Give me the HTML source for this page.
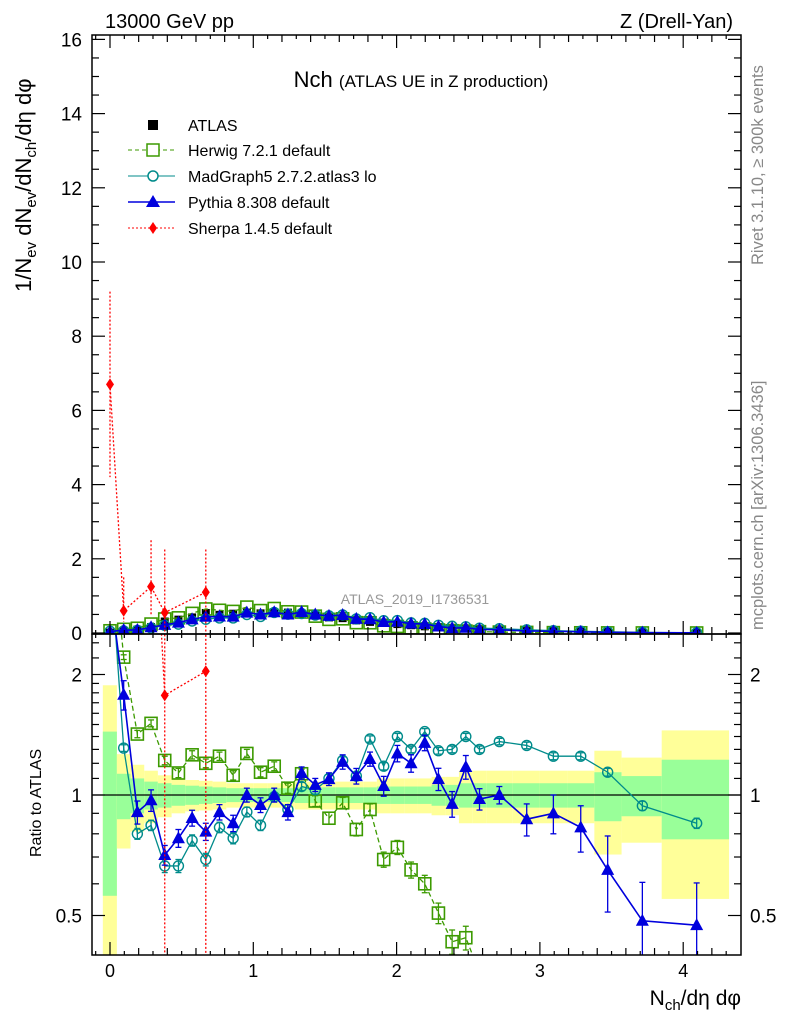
<!DOCTYPE html>
<html><head><meta charset="utf-8"><style>
html,body{margin:0;padding:0;background:#fff;overflow:hidden;width:786px;height:1024px;}
svg{display:block;font-family:"Liberation Sans",sans-serif;}
</style></head><body>
<svg id="chart" width="786" height="1024" viewBox="0 0 786 1024" xmlns="http://www.w3.org/2000/svg">
<defs>
<clipPath id="clipMain"><rect x="92" y="35" width="649" height="599"/></clipPath>
<clipPath id="clipRatio"><rect x="92" y="634" width="649" height="321"/></clipPath>
</defs>
<g id="bands" clip-path="url(#clipRatio)"></g>
<g id="ratioMarks" clip-path="url(#clipRatio)"></g>
<g id="mainMarks" clip-path="url(#clipMain)"></g>
<g id="axes"></g>
<text x="105" y="28" font-size="20">13000 GeV pp</text>
<text x="733" y="28" font-size="20" text-anchor="end">Z (Drell-Yan)</text>
<text x="421" y="87" font-size="22" text-anchor="middle">Nch <tspan font-size="17">(ATLAS UE in Z production)</tspan></text>
<text x="415" y="604" font-size="14" fill="#999" text-anchor="middle">ATLAS_2019_I1736531</text>
<text transform="translate(763,265) rotate(-90)" font-size="16.5" fill="#888">Rivet 3.1.10, ≥ 300k events</text>
<text transform="translate(763,630) rotate(-90)" font-size="16.5" fill="#888">mcplots.cern.ch [arXiv:1306.3436]</text>
<text transform="translate(31,292) rotate(-90)" font-size="22">1/N<tspan font-size="15" dy="5">ev</tspan><tspan dy="-5"> dN</tspan><tspan font-size="15" dy="5">ev</tspan><tspan dy="-5">/dN</tspan><tspan font-size="15" dy="5">ch</tspan><tspan dy="-5">/dη dφ</tspan></text>
<text transform="translate(41,857) rotate(-90)" font-size="16">Ratio to ATLAS</text>
<text x="741" y="1005" font-size="21" text-anchor="end">N<tspan font-size="15" dy="5">ch</tspan><tspan dy="-5">/dη dφ</tspan></text>
<g id="legend">
<g><rect x="148" y="120" width="10" height="10" fill="#000"/><text x="188" y="131" font-size="16">ATLAS</text></g>
<g><line x1="128" y1="150" x2="175" y2="150" stroke="#3c9a00" stroke-dasharray="4,3"/><rect x="147" y="144" width="12" height="12" fill="#fff" stroke="#3c9a00" stroke-width="1.5"/><text x="188" y="156" font-size="16">Herwig 7.2.1 default</text></g>
<g><line x1="128" y1="176" x2="175" y2="176" stroke="#008b8b"/><circle cx="153" cy="176" r="5" fill="#fff" stroke="#008b8b" stroke-width="1.5"/><text x="188" y="182" font-size="16">MadGraph5 2.7.2.atlas3 lo</text></g>
<g><line x1="128" y1="202" x2="175" y2="202" stroke="#0000dd" stroke-width="1.5"/><polygon points="153,195 160,207 146,207" fill="#0000dd"/><text x="188" y="208" font-size="16">Pythia 8.308 default</text></g>
<g><line x1="128" y1="228" x2="175" y2="228" stroke="#f00" stroke-dasharray="2,2"/><polygon points="153,222 157,228 153,234 149,228" fill="#f00"/><text x="188" y="234" font-size="16">Sherpa 1.4.5 default</text></g>
</g>
</svg>
<script>
// ---- data ----
const xCenters = [0,0.0955,0.191,0.2865,0.382,0.4775,0.573,0.6685,0.764,0.8595,0.955,1.0505,1.146,1.2415,1.337,1.4325,1.528,1.6235,1.719,1.8145,1.91,2.0055,2.101,2.1965,2.292,2.3875,2.483,2.5785,2.717,2.908,3.094,3.285,3.473,3.715,4.094];
const binLo = [-0.05,0.048,0.143,0.239,0.334,0.43,0.525,0.621,0.716,0.812,0.907,1.003,1.098,1.194,1.289,1.385,1.48,1.576,1.671,1.767,1.862,1.958,2.053,2.149,2.244,2.34,2.435,2.531,2.626,2.81,3.0,3.19,3.38,3.57,3.85];
const binHi = [0.048,0.143,0.239,0.334,0.43,0.525,0.621,0.716,0.812,0.907,1.003,1.098,1.194,1.289,1.385,1.48,1.576,1.671,1.767,1.862,1.958,2.053,2.149,2.244,2.34,2.435,2.531,2.626,2.81,3.0,3.19,3.38,3.57,3.85,4.32];
const atlasVals = [0.012,0.045,0.09,0.16,0.31,0.36,0.42,0.54,0.49,0.52,0.55,0.53,0.56,0.55,0.50,0.47,0.42,0.40,0.34,0.30,0.28,0.24,0.21,0.18,0.16,0.14,0.12,0.10,0.085,0.065,0.05,0.038,0.028,0.018,0.009];
const totErr = [0.88,0.265,0.19,0.15,0.12,0.10,0.09,0.085,0.08,0.07,0.07,0.07,0.07,0.07,0.08,0.08,0.08,0.08,0.08,0.08,0.10,0.10,0.10,0.10,0.11,0.11,0.15,0.15,0.15,0.15,0.15,0.15,0.29,0.24,0.45];
const statErr = [0.44,0.13,0.10,0.08,0.07,0.06,0.055,0.05,0.045,0.04,0.04,0.04,0.04,0.04,0.045,0.045,0.045,0.045,0.045,0.045,0.05,0.05,0.05,0.05,0.06,0.06,0.07,0.07,0.07,0.07,0.07,0.07,0.14,0.115,0.225];
const herwigRatio = [5.0,2.21,1.42,1.51,1.22,1.135,1.26,1.20,1.25,1.12,1.27,1.14,1.18,1.04,1.13,0.966,0.875,0.956,0.82,0.92,0.69,0.74,0.65,0.60,0.507,0.43,0.44,0.36,0.30,0.25,0.2,0.16,0.12,0.1,0.08];
const madgraphRatio = [4.0,1.31,0.80,0.84,0.665,0.665,0.77,0.69,0.83,0.78,0.907,0.84,0.99,0.92,1.05,1.03,1.10,1.22,1.115,1.38,1.18,1.40,1.30,1.44,1.29,1.30,1.40,1.30,1.36,1.33,1.25,1.25,1.14,0.94,0.85];
const pythiaRatio = [3.3,1.78,0.906,0.97,0.708,0.78,0.876,0.81,0.906,0.85,1.0,0.944,1.0,0.906,1.135,1.06,1.096,1.21,1.115,1.23,1.053,1.27,1.20,1.35,1.096,0.95,1.175,0.977,1.0,0.87,0.90,0.83,0.65,0.485,0.473];
const pythiaErr = [0.3,0.15,0.06,0.06,0.04,0.04,0.04,0.04,0.04,0.04,0.04,0.04,0.04,0.04,0.04,0.04,0.04,0.05,0.05,0.05,0.06,0.06,0.06,0.06,0.07,0.07,0.08,0.06,0.05,0.08,0.1,0.11,0.14,0.12,0.13];
const sherpaIdx = [0,1,3,4,7];
const sherpaVals = [6.7,0.6,1.25,0.55,1.1];
const sherpaErrHi = [2.5,0.9,1.25,1.7,1.15];
const sherpaErrLo = [2.5,0.3,0.8,0.55,1.1];
const mainYTicks = [0,2,4,6,8,10,12,14,16];
const xTicks = [0,1,2,3,4];
const ratioTicks = [0.5,1,2];

// ---- scales ----
const X = v => 110 + v*143.3;
const Y = v => 633 - 37.1*v;
const R = r => Math.min(1015, Math.max(300, 795 - 120.5*Math.log2(Math.max(r,0.01))));
const NS = "http://www.w3.org/2000/svg";
function mk(tag, parent, attrs){const e=document.createElementNS(NS,tag);for(const k in attrs)e.setAttribute(k,attrs[k]);parent.appendChild(e);return e;}
const bands=document.getElementById('bands'), rm=document.getElementById('ratioMarks'), mm=document.getElementById('mainMarks'), ax=document.getElementById('axes');

for(let i=0;i<binLo.length;i++){
  const y1=mk('rect',bands,{x:X(binLo[i]),y:R(1+totErr[i]),width:X(binHi[i])-X(binLo[i]),height:Math.min(R(Math.max(1-totErr[i],0.05)),960)-R(1+totErr[i]),fill:'#ffff99'});
  
  
  const g1=mk('rect',bands,{x:X(binLo[i]),y:R(1+statErr[i]),width:X(binHi[i])-X(binLo[i]),height:R(1-statErr[i])-R(1+statErr[i]),fill:'#99ff99'});
  
  
}
const one=mk('line',rm,{x1:92,x2:741,y1:R(1),y2:R(1),stroke:'#000','stroke-width':1.2});



function marker(parent,type,cx,cy,color){
  let e;
  if(type==='sq') e=mk('rect',parent,{x:cx-6,y:cy-6,width:12,height:12,fill:'none',stroke:color,'stroke-width':1.6});
  else if(type==='circ') e=mk('circle',parent,{cx:cx,cy:cy,r:5,fill:'none',stroke:color,'stroke-width':1.4});
  else if(type==='tri') e=mk('polygon',parent,{points:`${cx},${cy-7} ${cx+6.5},${cy+5} ${cx-6.5},${cy+5}`,fill:color});
  else if(type==='dia') e=mk('polygon',parent,{points:`${cx},${cy-6} ${cx+4},${cy} ${cx},${cy+6} ${cx-4},${cy}`,fill:color});
  else if(type==='blk') e=mk('rect',parent,{x:cx-4,y:cy-4,width:8,height:8,fill:color});
  return e;
}
function series(name,ratio,color,type,dash,width,errs,defErr){
  const pr=ratio.map((r,i)=>X(xCenters[i])+','+R(r)).join(' ');
  const l=mk('polyline',rm,{points:pr,fill:'none',stroke:color,'stroke-width':width,'stroke-dasharray':dash});
  
  
  ratio.forEach((r,i)=>{
    const e=errs?errs[i]:defErr;
    const cx=X(xCenters[i]);
    if(R(r)<=300||R(r)>=1015) return;
    mk('line',rm,{x1:cx,x2:cx,y1:R(r+e),y2:R(Math.max(r-e,0.05)),stroke:color,'stroke-width':1.3});
    mk('line',rm,{x1:cx-3,x2:cx+3,y1:R(r+e),y2:R(r+e),stroke:color,'stroke-width':1.3});
    mk('line',rm,{x1:cx-3,x2:cx+3,y1:R(r-e),y2:R(r-e),stroke:color,'stroke-width':1.3});
    const m=marker(rm,type,cx,R(r),color);
    
    
  });
  const pm=ratio.map((r,i)=>X(xCenters[i])+','+Y(r*atlasVals[i])).join(' ');
  const l2=mk('polyline',mm,{points:pm,fill:'none',stroke:color,'stroke-width':width,'stroke-dasharray':dash});
  
  
  ratio.forEach((r,i)=>{
    const m=marker(mm,type,X(xCenters[i]),Y(r*atlasVals[i]),color);
    
    
  });
}
atlasVals.forEach((v,i)=>{
  const m=marker(mm,'blk',X(xCenters[i]),Y(v),'#000');
  
  
});
series('herwig',herwigRatio,'#3c9a00','sq','5,3',1.3,null,0.03);
series('madgraph',madgraphRatio,'#008b8b','circ','none',1.3,null,0.025);
series('pythia',pythiaRatio,'#0000dd','tri','none',1.6,pythiaErr,0);

const shMain=sherpaIdx.map((k,j)=>X(xCenters[k])+','+Y(sherpaVals[j])).join(' ');
const shl=mk('polyline',mm,{points:shMain,fill:'none',stroke:'#f00','stroke-width':1.3,'stroke-dasharray':'2,2'});


const shRat=sherpaIdx.map((k,j)=>X(xCenters[k])+','+R(sherpaVals[j]/atlasVals[k])).join(' ');
const shr=mk('polyline',rm,{points:shRat,fill:'none',stroke:'#f00','stroke-width':1.3,'stroke-dasharray':'2,2'});


sherpaIdx.forEach((k,j)=>{
  const cx=X(xCenters[k]), v=sherpaVals[j], eh=sherpaErrHi[j], el=sherpaErrLo[j], a=atlasVals[k];
  mk('line',mm,{x1:cx,x2:cx,y1:Y(v+eh),y2:Y(Math.max(v-el,0)),stroke:'#f00','stroke-width':1.3,'stroke-dasharray':'2,2'});
  mk('line',rm,{x1:cx,x2:cx,y1:R((v+eh)/a),y2:R(Math.max((v-el)/a,0.02)),stroke:'#f00','stroke-width':1.3,'stroke-dasharray':'2,2'});
  const m=marker(mm,'dia',cx,Y(v),'#f00');
  
  
  const m2=marker(rm,'dia',cx,R(v/a),'#f00');
  
  
});

const f1=mk('rect',ax,{x:92,y:35,width:649,height:599,fill:'none',stroke:'#000','stroke-width':1.5});


const f2=mk('rect',ax,{x:92,y:634,width:649,height:321,fill:'none',stroke:'#000','stroke-width':1.5});


function tick(x1,y1,x2,y2){mk('line',ax,{x1,y1,x2,y2,stroke:'#000','stroke-width':1.2});}
for(let v=-0.1;v<=4.41;v+=0.1){
  const xx=X(v), isMaj=Math.abs(v-Math.round(v))<0.01, isMid=Math.abs(v*5-Math.round(v*5))<0.01;
  if(xx<93||xx>740) continue;
  const L=isMaj?13:(isMid?7:4);
  tick(xx,634,xx,634-L); tick(xx,35,xx,35+L); tick(xx,634,xx,634+L); tick(xx,955,xx,955-L);
}
xTicks.forEach(v=>{
  const t=mk('text',ax,{x:X(v),y:977,'font-size':18,'text-anchor':'middle'});t.textContent=v;
  
  
});
for(let v=0;v<=16.01;v+=0.5){
  const yy=Y(v), maj=Math.abs(v/2-Math.round(v/2))<0.01, L=maj?13:7;
  tick(92,yy,92+L,yy); tick(741,yy,741-L,yy);
}
mainYTicks.forEach(v=>{
  const t=mk('text',ax,{x:82,y:Y(v)+7,'font-size':19,'text-anchor':'end'});t.textContent=v;
  
  
});
[0.4,0.5,0.6,0.7,0.8,0.9,1,1.1,1.2,1.3,1.4,1.5,1.6,1.7,1.8,1.9,2,2.2,2.4].forEach(v=>{
  const yy=R(v), L=ratioTicks.includes(v)?13:7;
  if(yy<635||yy>954) return;
  tick(92,yy,92+L,yy); tick(741,yy,741-L,yy);
});
ratioTicks.forEach(v=>{
  const t=mk('text',ax,{x:82,y:R(v)+7,'font-size':19,'text-anchor':'end'});t.textContent=v;
  
  
  const t2=mk('text',ax,{x:750,y:R(v)+7,'font-size':19});t2.textContent=v;
  
  
});
</script>
</body></html>
